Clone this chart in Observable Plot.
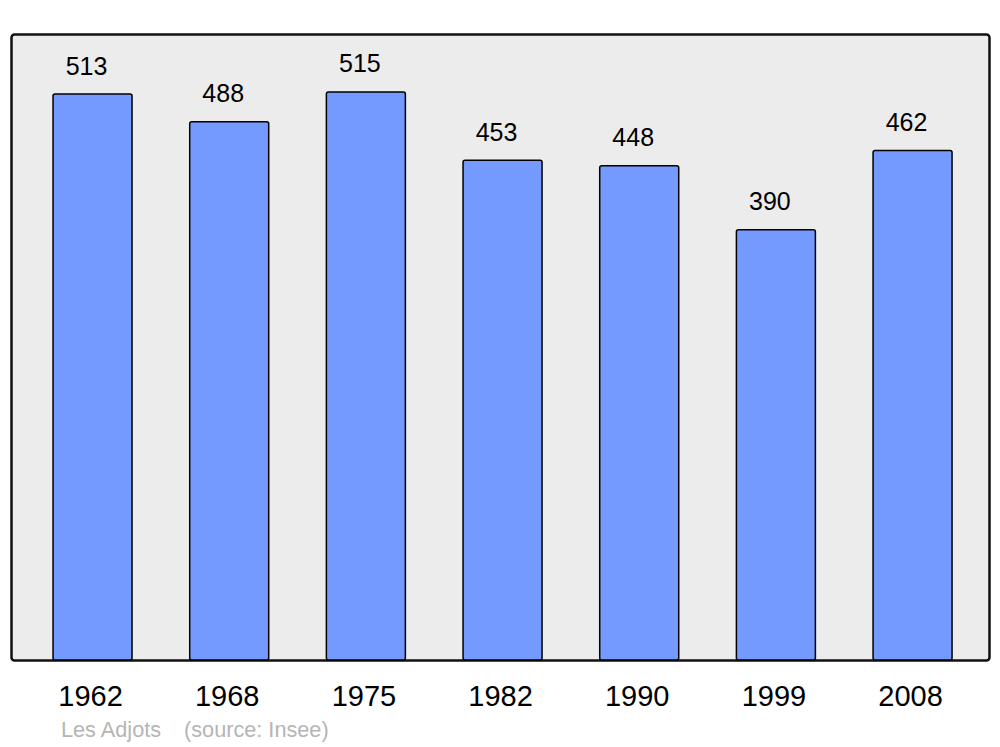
<!DOCTYPE html>
<html>
<head>
<meta charset="utf-8">
<script src="https://cdn.jsdelivr.net/npm/d3@7"></script>
<script src="https://cdn.jsdelivr.net/npm/@observablehq/plot@0.6"></script>
<style>
  html, body { margin: 0; padding: 0; background: #ffffff; }
  #chart svg { display: block; }
  #caption {
    position: relative; height: 35px; line-height: 35px; font-family: "Liberation Sans", Arial, sans-serif;
    font-size: 21.7px; color: #b5b5b5; white-space: pre;
  }
  #caption span { position: absolute; top: 0; }
</style>
</head>
<body>
<div id="chart"></div>
<div id="caption"><span style="left:61px">Les Adjots</span><span style="left:184px">(source: Insee)</span></div>
<script>
const years = ["1962", "1968", "1975", "1982", "1990", "1999", "2008"];
const population = [513, 488, 515, 453, 448, 390, 462];

const data = years.map((y, i) => ({year: y, pop: population[i]}));

const chart = Plot.plot({
  width: 1000,
  height: 712,
  marginLeft: 11,
  marginRight: 11,
  marginTop: 34,
  marginBottom: 52,
  style: {fontFamily: "Liberation Sans, Arial, sans-serif", background: "#ffffff"},
  x: {domain: years, range: [24.2, 980.9], paddingInner: 0.422, paddingOuter: 0.211, round: false, label: null},
  y: {domain: [0, 567.5], axis: null},
  marks: [
    Plot.frame({fill: "#ececec", stroke: "#111111", strokeWidth: 2.5, rx: 3}),
    Plot.barY(data, {x: "year", y: "pop", fill: "#7499ff", stroke: "#000000", strokeWidth: 1.5, rx: 2}),
    Plot.text(data, {x: "year", y: "pop", text: d => String(d.pop), dx: -6.5, dy: -28, fontSize: 25, fill: "#000000", lineAnchor: "middle"}),
    Plot.axisX({tickSize: 0, tickPadding: 25, dx: -2.5, fontSize: 29, label: null, color: "#000000"})
  ]
});
document.getElementById("chart").appendChild(chart);
</script>
</body>
</html>
